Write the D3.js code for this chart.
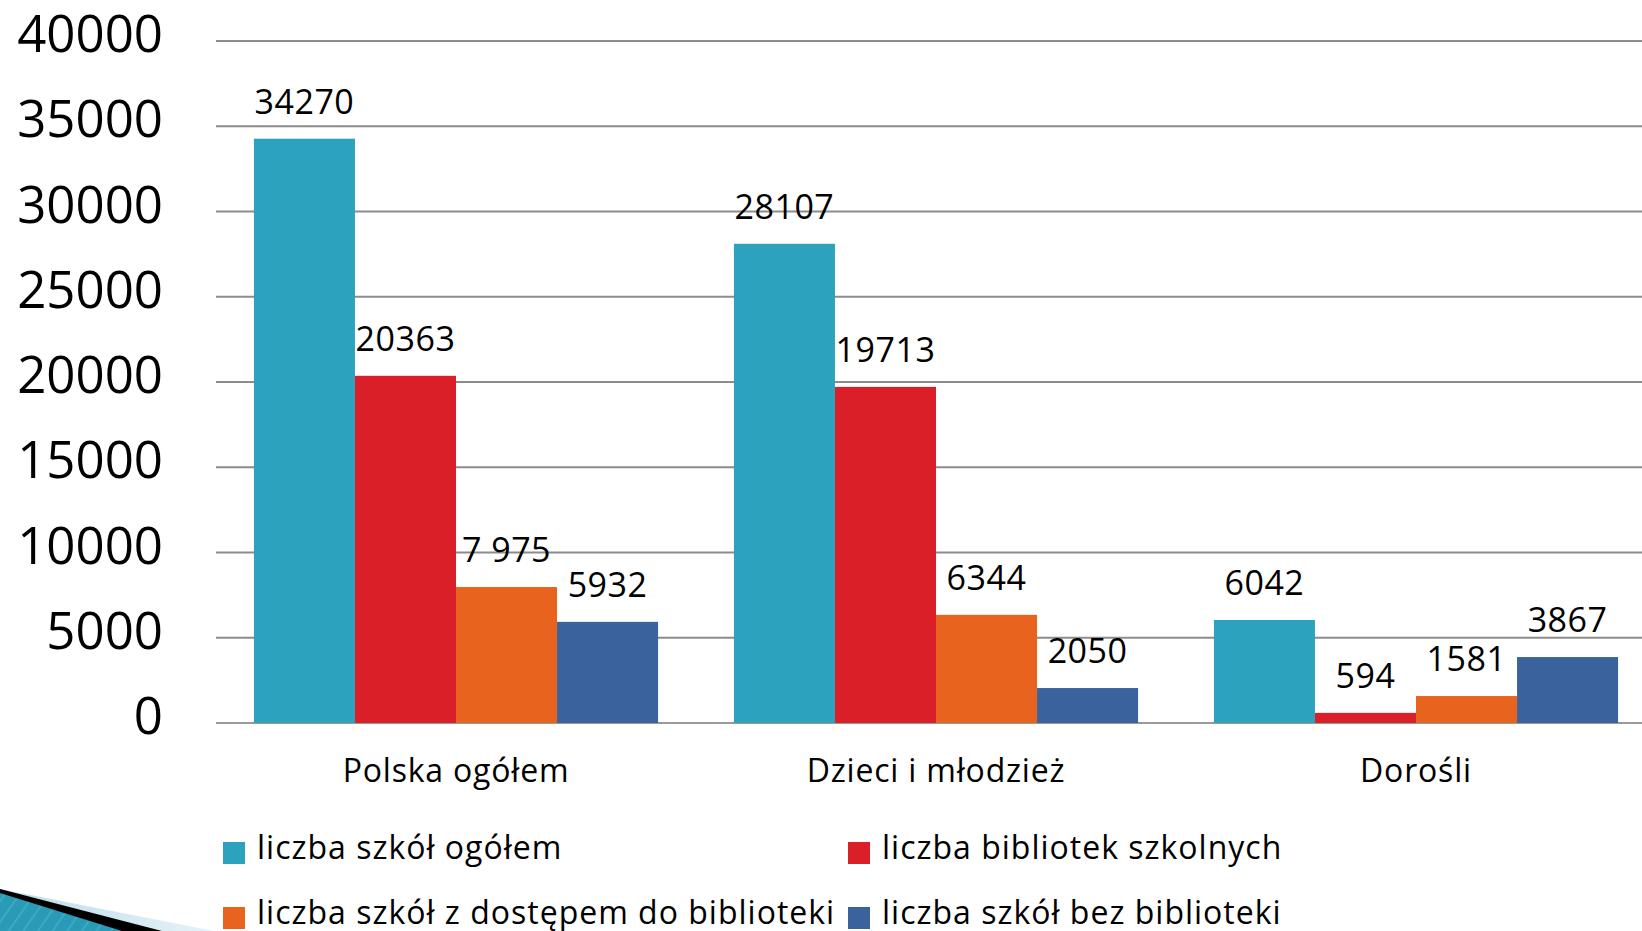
<!DOCTYPE html>
<html>
<head>
<meta charset="utf-8">
<script src="https://cdn.jsdelivr.net/npm/d3@7"></script>
<style>
  html, body { margin: 0; padding: 0; background: #fff; overflow: hidden; }
  svg { display: block; }
  text { font-family: "Open Sans", "Noto Sans", sans-serif; fill: #000; }
</style>
</head>
<body>
<svg id="chart" width="1642" height="931"></svg>
<script>
const categories = ["Polska ogółem", "Dzieci i młodzież", "Dorośli"];
const seriesNames = [
    "liczba szkół ogółem",
    "liczba bibliotek szkolnych",
    "liczba szkół z dostępem do biblioteki",
    "liczba szkół bez biblioteki"
];
const seriesColours = ["#2da2bf", "#da1f28", "#e8641e", "#3a629c"];
const schoolsTotal = [34270, 28107, 6042];
const schoolLibraries = [20363, 19713, 594];
const withLibraryAccess = [7975, 6344, 1581];
const withoutLibrary = [5932, 2050, 3867];
// labels as printed on the slide (one has a thousands space)
const withLibraryAccessLabels = ["7 975", "6344", "1581"];
const yTicks = [0, 5000, 10000, 15000, 20000, 25000, 30000, 35000, 40000];

const series = [schoolsTotal, schoolLibraries, withLibraryAccess, withoutLibrary];
const seriesLabels = [
    schoolsTotal.map(String),
    schoolLibraries.map(String),
    withLibraryAccessLabels,
    withoutLibrary.map(String)
];

const svg = d3.select("#chart");

const plot = { left: 216, right: 1656, top: 41, bottom: 723 };

const x0 = d3.scaleBand()
    .domain(categories)
    .range([plot.left, plot.right])
    .paddingInner(0.158)
    .paddingOuter(0.079);

const x1 = d3.scaleBand()
    .domain(d3.range(series.length))
    .range([0, x0.bandwidth()]);

const y = d3.scaleLinear().domain([0, 40000]).range([plot.bottom, plot.top]);

// gridlines
svg.append("g")
    .selectAll("line")
    .data(yTicks)
    .join("line")
    .attr("x1", plot.left)
    .attr("x2", 1642)
    .attr("y1", d => y(d))
    .attr("y2", d => y(d))
    .attr("stroke", d => d === 0 ? "#9a9a9a" : "#8c8c8c")
    .attr("stroke-width", 2);

// y tick labels
svg.append("g")
    .selectAll("text")
    .data(yTicks)
    .join("text")
    .attr("x", 163)
    .attr("y", d => y(d) + 11)
    .attr("text-anchor", "end")
    .attr("font-size", 51)
    .text(d => d);

// bars
const groups = svg.append("g")
    .selectAll("g")
    .data(categories)
    .join("g")
    .attr("transform", d => `translate(${x0(d)},0)`);

groups.selectAll("rect")
    .data((_, ci) => series.map((s, si) => ({ si, v: s[ci], label: seriesLabels[si][ci] })))
    .join("rect")
    .attr("x", d => x1(d.si))
    .attr("width", x1.bandwidth())
    .attr("y", d => y(d.v))
    .attr("height", d => y(0) - y(d.v))
    .attr("fill", d => seriesColours[d.si]);

groups.selectAll("text")
    .data((_, ci) => series.map((s, si) => ({ si, v: s[ci], label: seriesLabels[si][ci] })))
    .join("text")
    .attr("x", d => x1(d.si) + x1.bandwidth() / 2)
    .attr("y", d => y(d.v) - 25)
    .attr("text-anchor", "middle")
    .attr("font-size", 34)
    .attr("letter-spacing", 0.5)
    .text(d => d.label);

// category labels
svg.append("g")
    .selectAll("text")
    .data(categories)
    .join("text")
    .attr("x", d => x0(d) + x0.bandwidth() / 2)
    .attr("y", 782)
    .attr("text-anchor", "middle")
    .attr("font-size", 32)
    .attr("letter-spacing", 0.8)
    .text(d => d);

// legend, two columns
const legend = svg.append("g")
    .selectAll("g")
    .data(seriesNames)
    .join("g")
    .attr("transform", (_, i) => `translate(${i % 2 === 0 ? 223 : 848}, ${842 + Math.floor(i / 2) * 65})`);

legend.append("rect")
    .attr("width", 22)
    .attr("height", 22)
    .attr("fill", (_, i) => seriesColours[i]);

legend.append("text")
    .attr("x", 34)
    .attr("y", 17)
    .attr("font-size", 32)
    .attr("letter-spacing", 1)
    .text(d => d);

// theme swoosh in the bottom-left corner
const defs = svg.append("defs");
const grad = defs.append("linearGradient").attr("id", "lightSwoosh")
    .attr("x1", "0").attr("x2", "1").attr("y1", "0").attr("y2", "0");
grad.append("stop").attr("offset", "0").attr("stop-color", "#b9dde9");
grad.append("stop").attr("offset", "1").attr("stop-color", "#e6f3f8");

const pat = defs.append("pattern").attr("id", "stripes")
    .attr("patternUnits", "userSpaceOnUse")
    .attr("width", 12).attr("height", 12)
    .attr("patternTransform", "rotate(35)");
pat.append("rect").attr("width", 12).attr("height", 12).attr("fill", "#2a9bb7");
pat.append("rect").attr("width", 2).attr("height", 12).attr("fill", "#3aaac4");

svg.append("path")
    .attr("d", "M0,889 L214,931 L0,931 Z")
    .attr("fill", "url(#lightSwoosh)");
svg.append("path")
    .attr("d", "M0,889 L162,931 L0,931 Z")
    .attr("fill", "#000");
svg.append("path")
    .attr("d", "M0,893 L122,931 L0,931 Z")
    .attr("fill", "url(#stripes)");
</script>
</body>
</html>
